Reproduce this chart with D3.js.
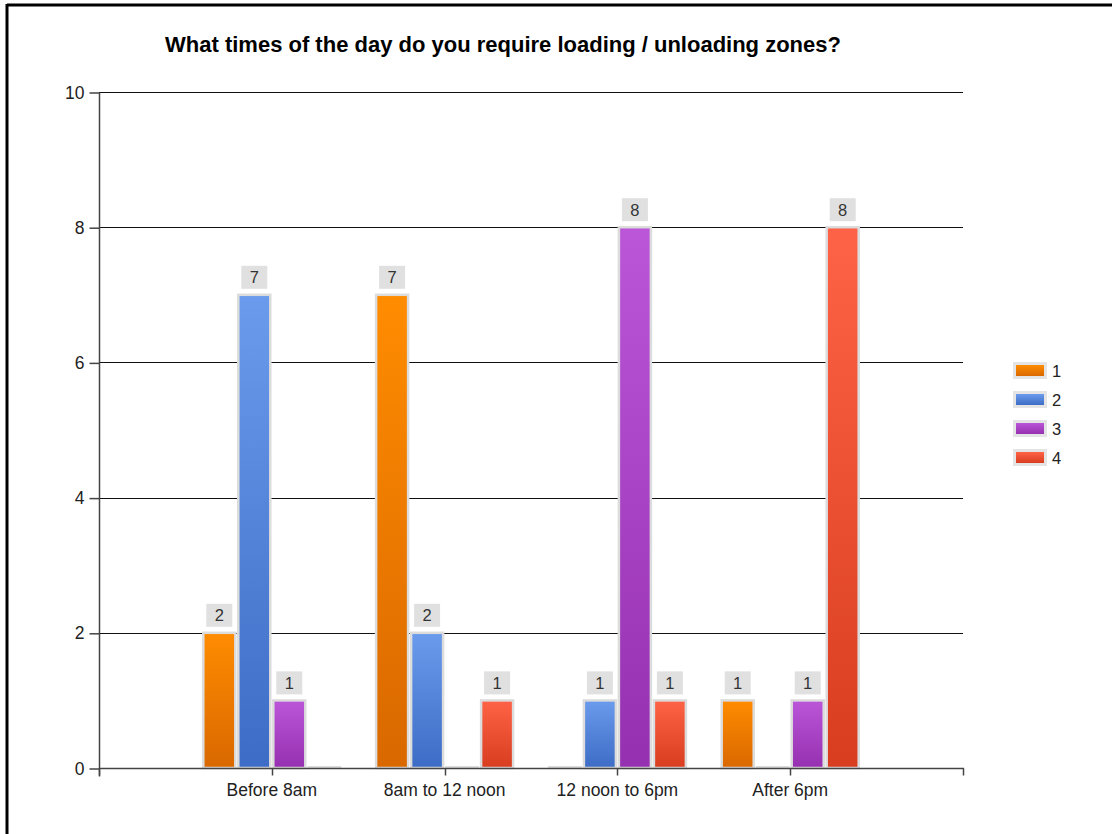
<!DOCTYPE html>
<html>
<head>
<meta charset="utf-8">
<script src="https://cdn.jsdelivr.net/npm/d3@7"></script>
<style>
  html, body { margin: 0; padding: 0; background: #fff; }
  svg { display: block; font-family: "Liberation Sans", Arial, sans-serif; }
</style>
</head>
<body>
<svg id="chart" width="1112" height="834"></svg>
<script>
// Survey responses: time slots and the four ranked answers
const categories = ["Before 8am", "8am to 12 noon", "12 noon to 6pm", "After 6pm"];
const seriesNames = ["1", "2", "3", "4"];
const series1 = [2, 7, 0, 1];
const series2 = [7, 2, 1, 0];
const series3 = [1, 0, 8, 1];
const series4 = [0, 1, 1, 8];
const yTicks = [0, 2, 4, 6, 8, 10];
const chartTitle = "What times of the day do you require loading / unloading zones?";

const seriesValues = [series1, series2, series3, series4];
const colorTop = ["#ff8c00", "#6b9bec", "#bc56d9", "#ff6347"];
const colorBottom = ["#d96800", "#3c6cc5", "#9530b0", "#d73d1e"];

const svg = d3.select("#chart");
const plot = { left: 99, right: 963, top: 92, bottom: 768 };

// Frame edges
svg.append("line").attr("x1", 7).attr("x2", 1112).attr("y1", 5).attr("y2", 5)
  .attr("stroke", "#000").attr("stroke-width", 3);
svg.append("line").attr("x1", 7).attr("x2", 7).attr("y1", 4).attr("y2", 834)
  .attr("stroke", "#000").attr("stroke-width", 3);

// Title
svg.append("text")
  .attr("x", 503).attr("y", 52)
  .attr("text-anchor", "middle")
  .attr("font-weight", "bold")
  .attr("font-size", 22)
  .attr("fill", "#000")
  .text(chartTitle);

const y = d3.scaleLinear().domain([0, 10]).range([plot.bottom, plot.top]);
const x = d3.scaleBand().domain(categories).range([plot.left, plot.right])
  .paddingInner(0).paddingOuter(0.5);
const groupWidth = 140;
const xs = d3.scaleBand().domain(seriesNames).range([0, groupWidth]).padding(0);

// Gradients
const defs = svg.append("defs");
seriesNames.forEach((s, i) => {
  const g = defs.append("linearGradient").attr("id", "grad" + i)
    .attr("x1", 0).attr("y1", 0).attr("x2", 0).attr("y2", 1);
  g.append("stop").attr("offset", "0%").attr("stop-color", colorTop[i]);
  g.append("stop").attr("offset", "100%").attr("stop-color", colorBottom[i]);
});

// Horizontal gridlines
svg.append("g").selectAll("line").data(yTicks.filter(t => t > 0)).join("line")
  .attr("x1", plot.left).attr("x2", plot.right)
  .attr("y1", d => Math.round(y(d)) + 0.5).attr("y2", d => Math.round(y(d)) + 0.5)
  .attr("stroke", "#111").attr("stroke-width", 1);

// Y axis
const yAxis = svg.append("g")
  .attr("transform", `translate(${plot.left + 0.5},0.5)`)
  .call(d3.axisLeft(y).tickValues(yTicks).tickSize(10).tickPadding(5).tickFormat(d3.format("d")));
yAxis.select(".domain").attr("d", `M0,${plot.top}V${plot.bottom + 8}`).attr("stroke", "#444").attr("stroke-width", 1.5);
yAxis.selectAll(".tick line").attr("stroke", "#444").attr("stroke-width", 1.5);
yAxis.selectAll(".tick text").attr("font-size", 17.5).attr("fill", "#222")
  .attr("font-family", "\"Liberation Sans\", Arial, sans-serif");

// Bars
const groups = svg.append("g").selectAll("g").data(categories).join("g")
  .attr("transform", d => `translate(${x(d) + x.bandwidth() / 2 - groupWidth / 2},0)`);

groups.each(function(cat, ci) {
  const g = d3.select(this);
  seriesNames.forEach((s, si) => {
    const v = seriesValues[si][ci];
    const bx = xs(s) + 1.5;
    const bw = xs.bandwidth() - 3;
    if (v > 0) {
      g.append("rect")
        .attr("x", bx).attr("y", y(v))
        .attr("width", bw).attr("height", y(0) - y(v))
        .attr("fill", `url(#grad${si})`)
        .attr("stroke", "#dcdcdc").attr("stroke-width", 2.5);
      const cx = xs(s) + xs.bandwidth() / 2;
      g.append("rect")
        .attr("x", cx - 13).attr("y", y(v) - 29)
        .attr("width", 26).attr("height", 23)
        .attr("fill", "#e0e0e0");
      g.append("text")
        .attr("x", cx).attr("y", y(v) - 11.5)
        .attr("text-anchor", "middle")
        .attr("font-size", 16.5).attr("fill", "#333")
        .text(v);
    } else {
      // zero values show only the bar outline along the baseline
      g.append("line")
        .attr("x1", bx - 1).attr("x2", bx + bw + 1)
        .attr("y1", y(0) - 1).attr("y2", y(0) - 1)
        .attr("stroke", "#dcdcdc").attr("stroke-width", 2);
    }
  });
});

// X axis
const xAxisY = plot.bottom + 0.5;
const xg = svg.append("g").attr("transform", `translate(0,${xAxisY})`);
xg.append("line").attr("x1", plot.left).attr("x2", plot.right + 1)
  .attr("stroke", "#444").attr("stroke-width", 1.5);
const tickXs = [plot.left, ...categories.map(c => x(c) + x.bandwidth() / 2), plot.right];
xg.selectAll("line.tk").data(tickXs).join("line").attr("class", "tk")
  .attr("x1", d => Math.round(d) + 0.5).attr("x2", d => Math.round(d) + 0.5)
  .attr("y1", 0).attr("y2", 7)
  .attr("stroke", "#444").attr("stroke-width", 1.5);
xg.selectAll("text").data(categories).join("text")
  .attr("x", d => x(d) + x.bandwidth() / 2)
  .attr("y", 27)
  .attr("text-anchor", "middle")
  .attr("font-size", 17.5).attr("fill", "#222")
  .text(d => d);

// Legend
const legend = svg.append("g").attr("transform", "translate(1013,362)");
seriesNames.forEach((s, i) => {
  const ly = i * 29;
  legend.append("rect").attr("x", 0).attr("y", ly).attr("width", 34).attr("height", 17)
    .attr("fill", "#e4e4e4");
  legend.append("rect").attr("x", 3).attr("y", ly + 3).attr("width", 28).attr("height", 11)
    .attr("fill", `url(#grad${i})`);
  legend.append("text").attr("x", 39).attr("y", ly + 15)
    .attr("font-size", 16.5).attr("fill", "#222").text(s);
});
</script>
</body>
</html>
